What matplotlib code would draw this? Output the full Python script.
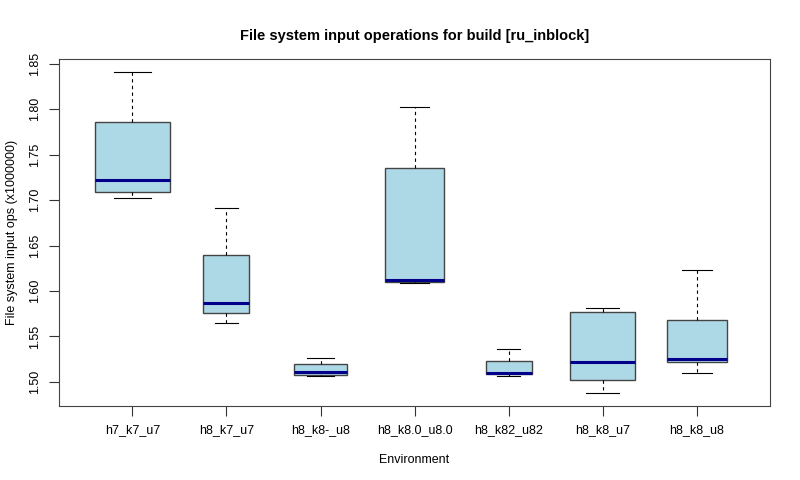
import matplotlib
matplotlib.use('Agg')
import matplotlib.pyplot as plt

plt.rcParams['font.family'] = ['Liberation Sans', 'DejaVu Sans']

envs = ['h7_k7_u7', 'h8_k7_u7', 'h8_k8-_u8', 'h8_k8.0_u8.0', 'h8_k82_u82', 'h8_k8_u7', 'h8_k8_u8']
whislo = [1.7022, 1.5649, 1.5066, 1.6090, 1.5070, 1.4875, 1.5096]
q1 = [1.7091, 1.5756, 1.5080, 1.6101, 1.5085, 1.5018, 1.5217]
med = [1.7227, 1.5870, 1.5110, 1.6123, 1.5099, 1.5220, 1.5257]
q3 = [1.7865, 1.6394, 1.5195, 1.7352, 1.5231, 1.5774, 1.5686]
whishi = [1.8412, 1.6919, 1.5264, 1.8030, 1.5367, 1.5818, 1.6229]
n_runs = [8, 3, 4, 5, 3, 6, 5]

stats = []
for i in range(len(envs)):
  stats.append({'label': envs[i], 'whislo': whislo[i], 'q1': q1[i], 'med': med[i],
                'q3': q3[i], 'whishi': whishi[i], 'fliers': []})

# box width grows with sqrt of sample count, like R varwidth
nmax = max(n_runs)
widths = [0.8 * (n / nmax) ** 0.5 for n in n_runs]
caps = [w / 2 for w in widths]

fig = plt.figure(figsize=(8, 4.8), dpi=100)
ax = fig.add_axes([0.07375, 0.154, 0.889, 0.723])
ax.bxp(stats, positions=range(1, len(envs) + 1), widths=widths, capwidths=caps,
       patch_artist=True, showfliers=False,
       boxprops=dict(facecolor='#ADD8E6', edgecolor='#444444', linewidth=1),
       medianprops=dict(color='#00008B', linewidth=2.2, solid_capstyle='butt'),
       whiskerprops=dict(color='black', linestyle=(0, (3, 3)), linewidth=0.8),
       capprops=dict(color='black', linewidth=0.8))

lo = min(whislo)
hi = max(whishi)
pad = (hi - lo) * 0.04
ax.set_ylim(lo - pad, hi + pad)
ax.set_xlim(0.5 - 0.28, len(envs) + 0.5 + 0.28)

ax.set_yticks([1.50, 1.55, 1.60, 1.65, 1.70, 1.75, 1.80, 1.85])
ax.set_yticklabels(['%.2f' % v for v in ax.get_yticks()], rotation=90, va='center')
ax.set_xticks(range(1, len(envs) + 1))
ax.set_xticklabels(envs)
ax.tick_params(axis='both', labelsize=9, length=7, color='#333333', pad=6)
for s in ax.spines.values():
  s.set_color('#444444')

ax.set_title('File system input operations for build [ru_inblock]', fontsize=10.5,
             fontweight='bold', pad=14)
ax.set_xlabel('Environment', fontsize=9, labelpad=13)
ax.set_ylabel('File system input ops (x1000000)', fontsize=9, labelpad=8)

fig.savefig('out.png', dpi=100)
